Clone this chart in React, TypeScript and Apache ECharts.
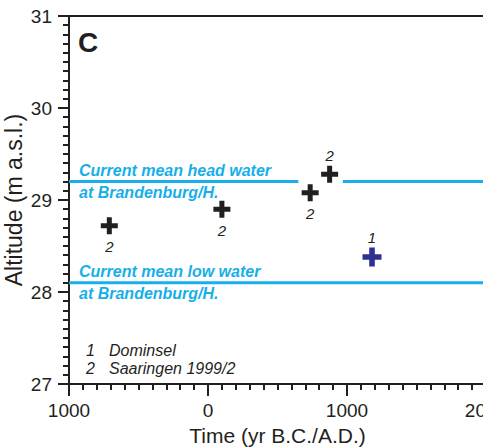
import React, { useEffect, useRef } from "react";
import * as echarts from "echarts";

// Data
const saaringenYears = [-710, 100, 735, 875];
const saaringenAltitudes = [28.72, 28.9, 29.08, 29.28];
const saaringenSourceLabels = ["2", "2", "2", "2"];
const saaringenLabelSides = ["bottom", "bottom", "bottom", "top"];

const dominselYears = [1180];
const dominselAltitudes = [28.38];
const dominselSourceLabels = ["1"];

const headWaterLevel = 29.2;
const headWaterYears = [-1000, 650, 800, 970, 2000]; // gap around the markers
const headWaterGap = [false, false, true, false, false];
const lowWaterLevel = 28.1;
const lowWaterYears = [-1000, 2000];

const xTicks = { min: -1000, max: 2000, interval: 1000 };
const yTicks = { min: 27, max: 31, interval: 1 };

const legendNumbers = ["1", "2"];
const legendNames = ["Dominsel", "Saaringen 1999/2"];

const INK = "#231f20";
const CYAN = "#17afe9";
const NAVY = "#2e3192";
const PLUS = "path://M6,0H11V6H17V11H11V17H6V11H0V6H6Z";

export default function App() {
  const ref = useRef<HTMLDivElement>(null);

  useEffect(() => {
    if (!ref.current) return;
    const chart = echarts.init(ref.current, null, { renderer: "svg" });
    const font = "'Liberation Sans', Arial, sans-serif";

    const saaringenData = saaringenYears.map((x, i) => ({
      value: [x, saaringenAltitudes[i]],
      label: {
        position: saaringenLabelSides[i],
        distance: saaringenLabelSides[i] === "top" ? 3 : 5,
        formatter: saaringenSourceLabels[i],
      },
    }));
    const dominselData = dominselYears.map((x, i) => ({
      value: [x, dominselAltitudes[i]],
      label: { position: "top", distance: 3, formatter: dominselSourceLabels[i] },
    }));

    const pointLabel = {
      show: true,
      fontFamily: font,
      fontSize: 15,
      fontStyle: "italic",
      color: INK,
    };

    const blueText = (text: string, x: number, y: number) => ({
      type: "text",
      left: x,
      top: y,
      z: 10,
      style: {
        text,
        fill: CYAN,
        font: `italic bold 16px ${font}`,
      },
    });

    const option: any = {
      animation: false,
      grid: {
        left: 69,
        right: -3,
        top: 16,
        bottom: 63,
        outerBoundsMode: "none",
        containLabel: false,
        show: true,
        borderColor: INK,
        borderWidth: 2,
        backgroundColor: "transparent",
      },
      xAxis: {
        type: "value",
        min: xTicks.min,
        max: xTicks.max,
        interval: xTicks.interval,
        name: "Time (yr B.C./A.D.)",
        nameLocation: "middle",
        nameGap: 41,
        nameTextStyle: { fontFamily: font, fontSize: 21, color: INK },
        axisLine: { show: true, onZero: false, lineStyle: { color: INK, width: 2 } },
        axisTick: { show: true, length: 12, lineStyle: { color: INK, width: 2 } },
        minorTick: { show: true, splitNumber: 10, length: 6, lineStyle: { color: INK, width: 2 } },
        splitLine: { show: false },
        axisLabel: {
          showMinLabel: true,
          showMaxLabel: true,
          hideOverlap: false,
          margin: 17,
          fontFamily: font,
          fontSize: 19,
          color: INK,
          formatter: (v: number) => String(Math.abs(v)),
        },
      },
      yAxis: {
        type: "value",
        min: yTicks.min,
        max: yTicks.max,
        interval: yTicks.interval,
        name: "Altitude (m a.s.l.)",
        nameLocation: "middle",
        nameGap: 44,
        nameMoveOverlap: false,
        nameTextStyle: { fontFamily: font, fontSize: 23, color: INK },
        axisLine: { show: true, onZero: false, lineStyle: { color: INK, width: 2 } },
        axisTick: { show: true, length: 11, lineStyle: { color: INK, width: 2 } },
        minorTick: { show: true, splitNumber: 10, length: 6, lineStyle: { color: INK, width: 2 } },
        splitLine: { show: false },
        axisLabel: { margin: 17, fontFamily: font, fontSize: 19, color: INK },
      },
      series: [
        {
          type: "line",
          data: headWaterYears.map((x, i) => [x, headWaterGap[i] ? "-" : headWaterLevel]),
          showSymbol: false,
          connectNulls: false,
          lineStyle: { color: CYAN, width: 3 },
          z: 1,
        },
        {
          type: "line",
          data: lowWaterYears.map((x) => [x, lowWaterLevel]),
          showSymbol: false,
          lineStyle: { color: CYAN, width: 3 },
          z: 1,
        },
        {
          type: "scatter",
          data: saaringenData,
          symbol: PLUS,
          symbolSize: 17,
          itemStyle: { color: INK, opacity: 1 },
          label: pointLabel,
          z: 3,
        },
        {
          type: "scatter",
          data: dominselData,
          symbol: PLUS,
          symbolSize: 19,
          itemStyle: { color: NAVY, opacity: 1 },
          label: pointLabel,
          z: 3,
        },
      ],
      graphic: [
        {
          type: "text",
          left: 78,
          top: 28,
          style: { text: "C", fill: INK, font: `bold 28px ${font}` },
        },
        blueText("Current mean head water", 79, 162),
        blueText("at Brandenburg/H.", 79, 184),
        blueText("Current mean low water", 79, 263),
        blueText("at Brandenburg/H.", 79, 285),
        ...legendNumbers.flatMap((n, i) => [
          {
            type: "text",
            left: 86,
            top: 342 + i * 18.5,
            style: { text: n, fill: INK, font: `italic 16px ${font}` },
          },
          {
            type: "text",
            left: 109,
            top: 342 + i * 18.5,
            style: { text: legendNames[i], fill: INK, font: `italic 16px ${font}` },
          },
        ]),
      ],
    };

    chart.setOption(option);
    return () => chart.dispose();
  }, []);

  return (
    <div
      ref={ref}
      style={{ position: "absolute", left: 0, top: 0, width: 483, height: 447, background: "#fff" }}
    />
  );
}
